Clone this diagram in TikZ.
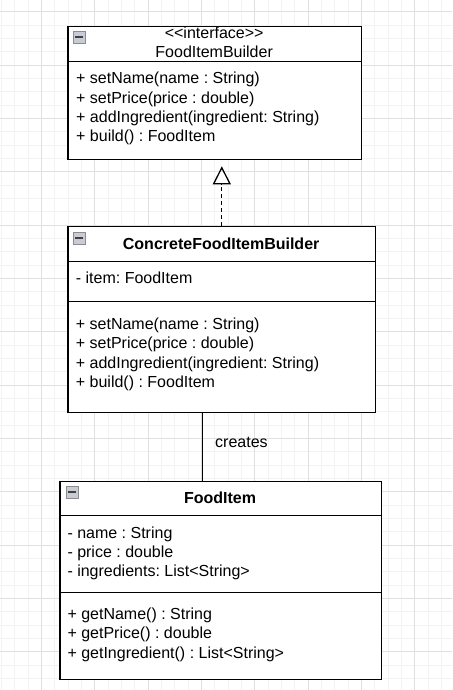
\documentclass[tikz,border=0pt]{standalone}
\usepackage{fontspec}
\setmainfont{Liberation Sans}
\usetikzlibrary{arrows.meta}
\frenchspacing

\definecolor{gridminor}{RGB}{242,242,242}
\definecolor{gridmajor}{RGB}{224,224,224}
\definecolor{iconfill}{RGB}{200,204,212}

\tikzset{
  classpart/.style={draw=black, fill=white, line width=1.3pt, anchor=north west, inner sep=0pt},
  member/.style={anchor=base west, inner sep=0pt, font=\fontsize{16}{19.2}\selectfont},
  classtitle/.style={anchor=base, inner sep=0pt, font=\fontsize{16}{19.2}\selectfont},
  foldicon/.style={draw=black!45, fill=iconfill, line width=0.6pt, minimum width=12pt,
    minimum height=12pt, inner sep=0pt, anchor=north west,
    path picture={\draw[line width=2pt, black!75]
      ([xshift=2pt]path picture bounding box.west) -- ([xshift=-2pt]path picture bounding box.east);}}
}

\begin{document}
\begin{tikzpicture}[x=1pt,y=-1pt]

      \useasboundingbox (0,0) rectangle (452,690);

      % background grid
      \begin{scope}
        \clip (0,0) rectangle (452,690);
        \foreach \gx in {1.33,14.67,...,452} \draw[gridminor, line width=1pt] (\gx,0) -- (\gx,690);
        \foreach \gy in {-1.33,12,...,690} \draw[gridminor, line width=1pt] (0,\gy) -- (452,\gy);
        \foreach \gx in {41.33,94.67,...,452} \draw[gridmajor, line width=1pt] (\gx,0) -- (\gx,690);
        \foreach \gy in {12,65.33,...,690} \draw[gridmajor, line width=1pt] (0,\gy) -- (452,\gy);
      \end{scope}

      % FoodItemBuilder
      \node (builderhead) [classpart, minimum width=293.7pt, minimum height=35pt] at (67.3,26) {};
      \node (builderops)  [classpart, minimum width=293.7pt, minimum height=98pt] at (67.3,61) {};
      \node (buildericon) [foldicon] at (73,31) {};
      \node (builderstereo) [classtitle] at (214.15,38.6) {<\kern0pt<interface>\kern0pt>};
      \node (buildername)   [classtitle] at (214.15,58) {FoodItemBuilder};
      \node (builderm1) [member] at (76,84)    {+ setName(name : String)};
      \node (builderm2) [member] at (76,103.3) {+ setPrice(price : double)};
      \node (builderm3) [member] at (76,122.6) {+ addIngredient(ingredient: String)};
      \node (builderm4) [member] at (76,141.9) {+ build() : FoodItem};

      % ConcreteFoodItemBuilder
      \node (concretehead)  [classpart, minimum width=307.7pt, minimum height=35pt] at (67.3,226) {};
      \node (concreteattr)  [classpart, minimum width=307.7pt, minimum height=40pt] at (67.3,261) {};
      \node (concreteops)   [classpart, minimum width=307.7pt, minimum height=111pt] at (67.3,301) {};
      \node (concreteicon)  [foldicon] at (73,232) {};
      \node (concretename)  [classtitle, font=\fontsize{16}{19.2}\selectfont\bfseries] at (221.15,249) {ConcreteFoodItemBuilder};
      \node (concretea1) [member] at (75.7,283.8) {- item: FoodItem};
      \node (concretem1) [member] at (75.7,329.5) {+ setName(name : String)};
      \node (concretem2) [member] at (75.7,348.8) {+ setPrice(price : double)};
      \node (concretem3) [member] at (75.7,368.1) {+ addIngredient(ingredient: String)};
      \node (concretem4) [member] at (75.7,387.4) {+ build() : FoodItem};

      % FoodItem
      \node (itemhead) [classpart, minimum width=321.4pt, minimum height=34pt] at (59.3,481) {};
      \node (itemattr) [classpart, minimum width=321.4pt, minimum height=77pt] at (59.3,515) {};
      \node (itemops)  [classpart, minimum width=321.4pt, minimum height=87pt] at (59.3,592) {};
      \node (itemicon) [foldicon] at (66,486) {};
      \node (itemname) [classtitle, font=\fontsize{16}{19.2}\selectfont\bfseries] at (220,503) {FoodItem};
      \node (itema1) [member] at (67.3,538.2) {- name : String};
      \node (itema2) [member] at (67.3,557.4) {- price : double};
      \node (itema3) [member] at (67.3,576.6) {- ingredients: List<String>};
      \node (itemm1) [member] at (67.3,619.5) {+ getName() : String};
      \node (itemm2) [member] at (67.3,638.8) {+ getPrice() : double};
      \node (itemm3) [member] at (67.3,658)   {+ getIngredient() : List<String>};

      % realization
      \draw[line width=1.3pt, dash pattern=on 4pt off 3pt,
            -{Triangle[open, length=18pt, width=18pt, line width=1.3pt]}, shorten >=6pt]
        (concretehead.north) -- (concretehead.north |- builderops.south);

      % association
      \draw[line width=1.3pt] ([xshift=-19.5pt]concreteops.south) coordinate (assocstart)
        -- (assocstart |- itemhead.north);
      \node (createslabel) [member] at (215,447) {creates};

    \end{tikzpicture}
\end{document}
